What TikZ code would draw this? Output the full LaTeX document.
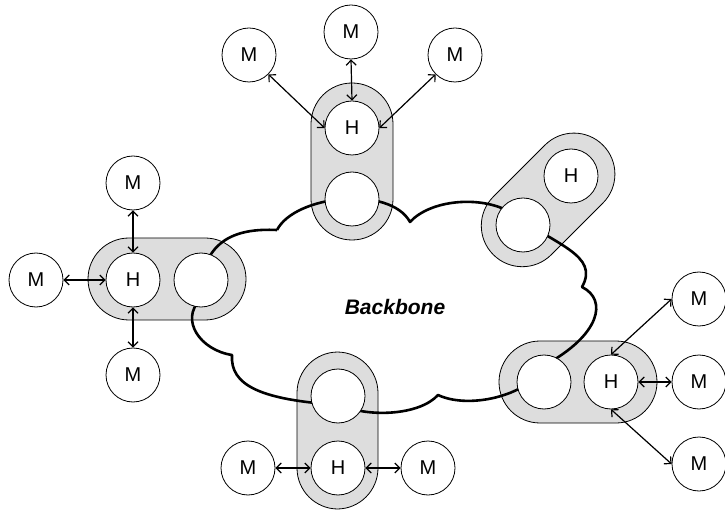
\documentclass[tikz,border=0pt]{standalone}
\usepackage{fontspec}
\setmainfont{Liberation Sans}
\usetikzlibrary{arrows.meta}
\definecolor{pillgray}{RGB}{221,221,221}
\tikzset{
  pill/.style={draw=black, line width=0.8pt, fill=pillgray, rounded corners=41pt},
  port/.style={circle, draw=black, line width=0.8pt, fill=white, minimum size=54pt, inner sep=0pt,
    font=\fontsize{20}{24}\selectfont},
  link/.style={line width=1.2pt, {Straight Barb[length=5pt,width=10pt]}-{Straight Barb[length=5pt,width=10pt]}},
  cloudline/.style={line width=2.6pt, line join=round}
}
\begin{document}
\begin{tikzpicture}[x=1pt,y=-1pt]
\useasboundingbox (0,0) rectangle (725,510);
% pills
\draw[pill] (311,83) rectangle (393,240);
\draw[pill] (88,238) rectangle (246,320);
\draw[pill] (499,341) rectangle (657,423);
\draw[pill] (297,352) rectangle (378,509);
\begin{scope}[shift={(523,225)}, rotate=45]
\draw[pill] (-42,-41) rectangle (113,41);
\end{scope}
% cloud
\draw[cloudline] (277,230) .. controls (295,195) and (390,185) .. (410,222)
  .. controls (430,200) and (480,195) .. (510,212)
  .. controls (555,245) and (600,255) .. (582,287)
  .. controls (608,300) and (600,335) .. (545,365)
  .. controls (530,395) and (470,410) .. (438,395)
  .. controls (420,415) and (370,418) .. (340,405)
  .. controls (260,400) and (230,385) .. (232,355)
  .. controls (200,350) and (180,320) .. (200,300)
  .. controls (200,240) and (235,228) .. (277,230);
\node[font=\fontsize{21}{25}\selectfont\bfseries\itshape] (bb) at (395,307) {Backbone};
% top group
\node[port] (th) at (352,128) {H};
\node[port] (tb) at (352,199) {};
\node[port] (tm1) at (249,55) {M};
\node[port] (tm2) at (351,32) {M};
\node[port] (tm3) at (455,55) {M};
% left group
\node[port] (lh) at (133,280) {H};
\node[port] (lb) at (201,280) {};
\node[port] (lm1) at (36,280) {M};
\node[port] (lm2) at (133,183) {M};
\node[port] (lm3) at (133,375) {M};
% tilted group
\node[port] (rh) at (571,176) {H};
\node[port] (rb) at (523,225) {};
% right group
\node[port] (eb) at (544,382) {};
\node[port] (eh) at (611,382) {H};
\node[port] (em1) at (699,299) {M};
\node[port] (em2) at (699,382) {M};
\node[port] (em3) at (699,464) {M};
% bottom group
\node[port] (bb1) at (338,396) {};
\node[port] (bh) at (338,468) {H};
\node[port] (bm1) at (248,468) {M};
\node[port] (bm2) at (428,468) {M};
% links
\draw[link] (tm1.south east) -- (th.west);
\draw[link] (tm2.south) -- (th.north);
\draw[link] (tm3.south west) -- (th.east);
\draw[link] (lm1.east) -- (lh.west);
\draw[link] (lm2.south) -- (lh.north);
\draw[link] (lm3.north) -- (lh.south);
\draw[link] (eh.north) -- (em1.west);
\draw[link] (eh.east) -- (em2.west);
\draw[link] (eh.south) -- (em3.west);
\draw[link] (bm1.east) -- (bh.west);
\draw[link] (bh.east) -- (bm2.west);
\end{tikzpicture}
\end{document}
